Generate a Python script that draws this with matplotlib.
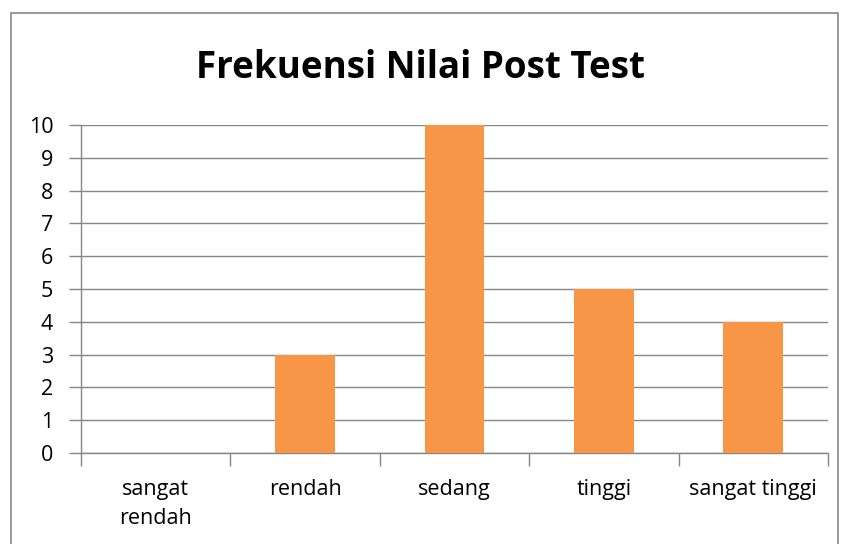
import matplotlib
matplotlib.use("Agg")
import matplotlib.pyplot as plt
from matplotlib.patches import Rectangle

categories = ["sangat\nrendah", "rendah", "sedang", "tinggi", "sangat tinggi"]
values = [0, 3, 10, 5, 4]
yticks = list(range(0, 11))

plt.rcParams['font.family'] = ['Open Sans', 'DejaVu Sans']

fig = plt.figure(figsize=(8.41, 5.44), dpi=100)
ax = fig.add_axes([81/841, 1-453/544, (828-81)/841, (453-125)/544])

x = list(range(len(categories)))
ax.bar(x, values, width=0.4, color="#F79646", zorder=3)
ax.set_xlim(-0.5, len(categories)-0.5)
ax.set_ylim(0, 10)
ax.set_yticks(yticks)
ax.set_yticklabels([str(v) for v in yticks], fontsize=15.5)
ax.set_xticks(x)
ax.set_xticklabels(categories, fontsize=15.5, linespacing=1.45)
ax.tick_params(axis='x', length=0, pad=19)
ax.tick_params(axis='y', length=9, color="#868686", width=1, pad=11)
# category boundary ticks
ax.set_xticks([i - 0.5 for i in range(len(categories)+1)], minor=True)
ax.tick_params(axis='x', which='minor', length=9, color="#868686", width=1)
ax.grid(axis='y', color="#868686", linewidth=1, zorder=0)
for s in ['top', 'right']:
    ax.spines[s].set_visible(False)
for s in ['left', 'bottom']:
    ax.spines[s].set_color("#868686")
    ax.spines[s].set_linewidth(1)

fig.text(421/841, 1-68/544, "Frekuensi Nilai Post Test", ha='center', va='center',
         fontsize=26.5, fontweight='bold')

fig.patches.append(Rectangle((11/841, -0.05), (838-11)/841, 1-13/544+0.05,
                             transform=fig.transFigure, fill=False,
                             edgecolor="#898989", linewidth=1.2))

fig.savefig("out.png", dpi=100)
